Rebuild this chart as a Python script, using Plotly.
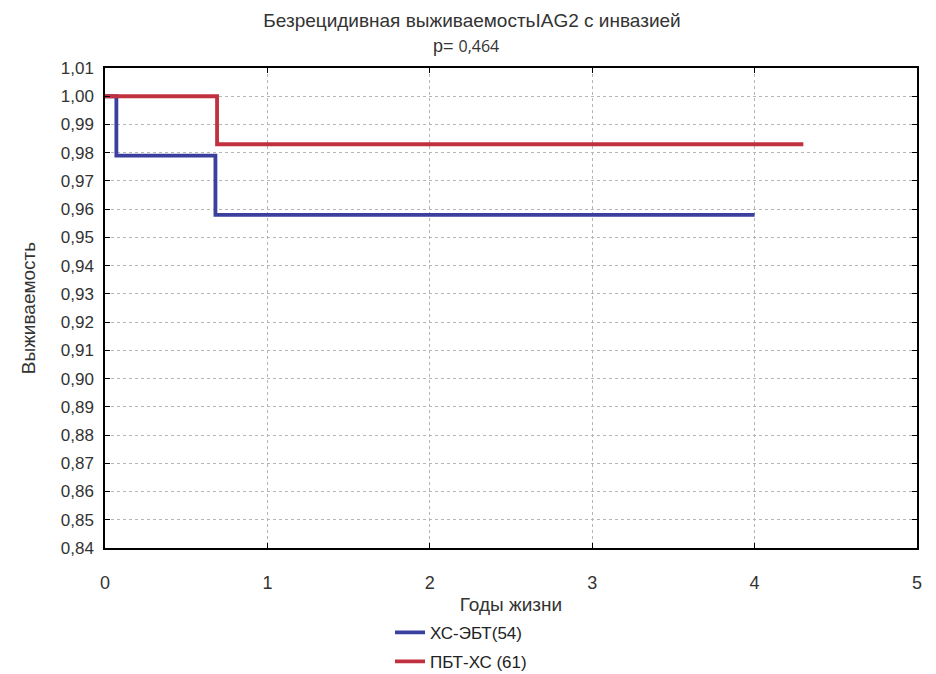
import plotly.graph_objects as go

# Data
blue_name = "ХС-ЭБТ(54)"
blue_t = [0, 0.07, 0.68, 4.0]
blue_s = [1.0, 0.979, 0.958, 0.958]

red_name = "ПБТ-ХС (61)"
red_t = [0, 0.69, 4.3]
red_s = [1.0, 0.983, 0.983]

y_ticks = [round(0.84 + 0.01 * i, 2) for i in range(18)]
y_labels = [f"{v:.2f}".replace(".", ",") for v in y_ticks]
x_ticks = [0, 1, 2, 3, 4, 5]

title_text = "Безрецидивная выживаемостьIAG2 с инвазией"
p_value = "0,464"

narrow = "Liberation Sans Narrow, Arial Narrow, Liberation Sans, Arial"
sans = "Liberation Sans, Arial"

fig = go.Figure()
fig.add_trace(go.Scatter(x=blue_t, y=blue_s, mode="lines", line_shape="hv",
                         line=dict(color="#3b3f9e", width=3.8), name=blue_name,
                         legendgroup="a"))
fig.add_trace(go.Scatter(x=red_t, y=red_s, mode="lines", line_shape="hv",
                         line=dict(color="#c0303f", width=3.8), name=red_name,
                         legendgroup="b"))

axis_common = dict(showline=True, linecolor="black", linewidth=1.5, mirror="ticks",
                   ticks="inside", ticklen=5, tickcolor="black", tickwidth=1.2,
                   showgrid=True, gridcolor="#b5b5b5", gridwidth=1, griddash="dot",
                   zeroline=False)

fig.update_xaxes(range=[0, 5], tickvals=x_ticks, ticktext=[str(v) for v in x_ticks],
                 tickfont=dict(family=narrow, size=18, color="#333"),
                 ticklabelstandoff=18,
                 title=dict(text="Годы жизни", font=dict(family=sans, size=19, color="#333"), standoff=17),
                 **axis_common)
fig.update_yaxes(range=[0.84, 1.01], tickvals=y_ticks, ticktext=y_labels,
                 tickfont=dict(family=narrow, size=17, color="#333"),
                 ticklabelstandoff=6,
                 title=dict(text="Выживаемость", font=dict(family=sans, size=19, color="#333"), standoff=20),
                 **axis_common)

fig.update_layout(
    width=928, height=666,
    margin=dict(l=97, r=19, t=60, b=126, autoexpand=False),
    paper_bgcolor="white", plot_bgcolor="white",
    title=dict(text=title_text, x=0.5, xref="container", xanchor="center", y=0.992, yanchor="top",
               font=dict(family=sans, size=19, color="#333")),
    showlegend=True,
    legend=dict(x=0.351, xanchor="left", xref="paper", y=0.089, yanchor="top", yref="container",
                font=dict(family=sans, size=17, color="#222"),
                bgcolor="rgba(0,0,0,0)", tracegroupgap=4, itemwidth=30),
)

fig.add_annotation(text=f"p= <span style='font-family:Open Sans, DejaVu Sans; font-size:16px'>{p_value}</span>",
                   xref="paper", yref="paper", x=0.5, y=1.0, yshift=35, xshift=-45,
                   showarrow=False, font=dict(family=sans, size=18, color="#333"))

fig.write_html("out.html")
